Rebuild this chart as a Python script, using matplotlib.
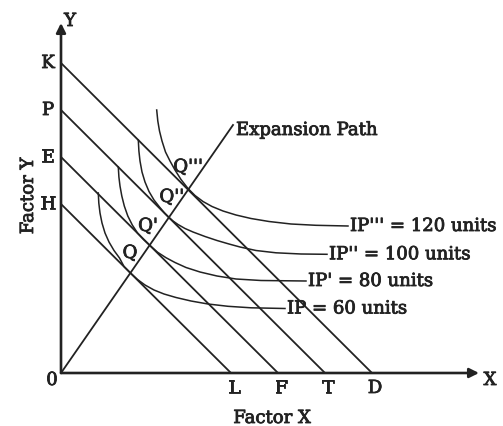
import matplotlib
matplotlib.use('Agg')
import matplotlib.pyplot as plt
import matplotlib.patheffects as pe

# 等成本线截距 (Y 轴 / X 轴)
y_ticks = ['H', 'E', 'P', 'K']
y_icpt = [169, 216, 263, 310]
x_ticks = ['L', 'F', 'T', 'D']
x_icpt = [170, 217, 264, 311]

# 等产量线 (从图上读取的点)
ip60_x = [37.3, 37.8, 39, 41, 44, 48, 53, 58.5, 63, 69.5, 76.5, 84, 93, 103, 115, 130, 147, 167, 190, 224]
ip60_y = [180, 170, 160, 150, 140, 131, 122.5, 115, 106.5, 100, 93.5, 88, 83, 79, 75.5, 72, 69, 66.7, 65.2, 64.5]
ip80_x = [57.3, 57.9, 59, 60.8, 63.3, 66.8, 71.3, 76.5, 82.5, 89, 96.5, 105, 114, 125, 139, 156, 175, 200, 245]
ip80_y = [206, 196, 187, 177, 167, 157, 148, 140, 133.5, 127.5, 120.8, 115.3, 110.5, 105.5, 101, 97, 94, 92.5, 92]
ip100_x = [77.3, 77.9, 79, 81, 84, 88, 93, 98.5, 103.5, 108, 112, 117, 124, 132, 144, 156, 168, 179, 195, 215, 240, 266]
ip100_y = [233, 222, 212, 201, 191, 181.5, 173, 166, 160, 155.5, 152, 148.5, 144.5, 141, 136.5, 132.5, 129, 126, 122.5, 120.2, 119, 118.7]
ip120_x = [95.7, 96.8, 98.5, 101, 104.5, 109, 114, 120, 127, 134, 142, 151, 162, 175, 190, 208, 230, 255, 287]
ip120_y = [263, 252, 242, 232, 221, 212, 203, 193.5, 184.5, 177.5, 171.5, 166.5, 162, 158, 154.5, 151.5, 149, 147.7, 147]
ip_labels = ["IP = 60 units", "IP' = 80 units", "IP'' = 100 units", "IP''' = 120 units"]

# 扩展线
path_x = [0, 172]
path_y = [0, 248]
q_labels = ['Q', "Q'", "Q''", "Q'''"]
q_x = [69, 87, 110.7, 127]
q_y = [120, 147, 176, 206]

plt.rcParams['font.family'] = 'DejaVu Serif'
col = '#222222'
fs = 13
bold = [pe.withStroke(linewidth=0.6, foreground=col)]

fig = plt.figure(figsize=(5.03, 4.26), dpi=100)
ax = fig.add_axes([61 / 503, 53 / 426, 420 / 503, 350 / 426])
ax.set_xlim(0, 420)
ax.set_ylim(0, 350)
ax.axis('off')


def label(x, y, s, **kw):
    ax.text(x, y, s, fontsize=fs, color=col, clip_on=False, path_effects=bold, **kw)


# 坐标轴箭头
arr = dict(arrowstyle='-|>', lw=1.9, color=col, mutation_scale=14, shrinkA=0, shrinkB=0)
ax.annotate('', xy=(418, 0), xytext=(0, 0), arrowprops=arr)
ax.annotate('', xy=(0, 350), xytext=(0, 0), arrowprops=arr)

# 等成本线
for yi, xi in zip(y_icpt, x_icpt):
    ax.plot([0, xi], [yi, 0], color=col, lw=1.3, solid_capstyle='butt')

# 等产量线
curves = [(ip60_x, ip60_y), (ip80_x, ip80_y), (ip100_x, ip100_y), (ip120_x, ip120_y)]
for (cx, cy), lab in zip(curves, ip_labels):
    ax.plot(cx, cy, color=col, lw=1.1, solid_joinstyle='round')
    label(cx[-1] + 2, cy[-1], lab, ha='left', va='center')

ax.plot(path_x, path_y, color=col, lw=1.3)
label(path_x[-1] + 3, path_y[-1] - 5, 'Expansion Path', ha='left', va='center')

for lab, qx, qy in zip(q_labels, q_x, q_y):
    label(qx, qy, lab, ha='center', va='center')

for lab, yi in zip(y_ticks, y_icpt):
    label(-13, yi, lab, ha='center', va='center')
for lab, xi in zip(x_ticks, x_icpt):
    label(xi + 3, -15, lab, ha='center', va='center')

label(-9, -7, '0', ha='center', va='center')
label(9, 352, 'Y', ha='center', va='center')
label(429, -7, 'X', ha='center', va='center')
label(211, -45, 'Factor X', ha='center', va='center')
label(-33, 177, 'Factor Y', ha='center', va='center', rotation=90)

fig.savefig('out.png', dpi=100)
